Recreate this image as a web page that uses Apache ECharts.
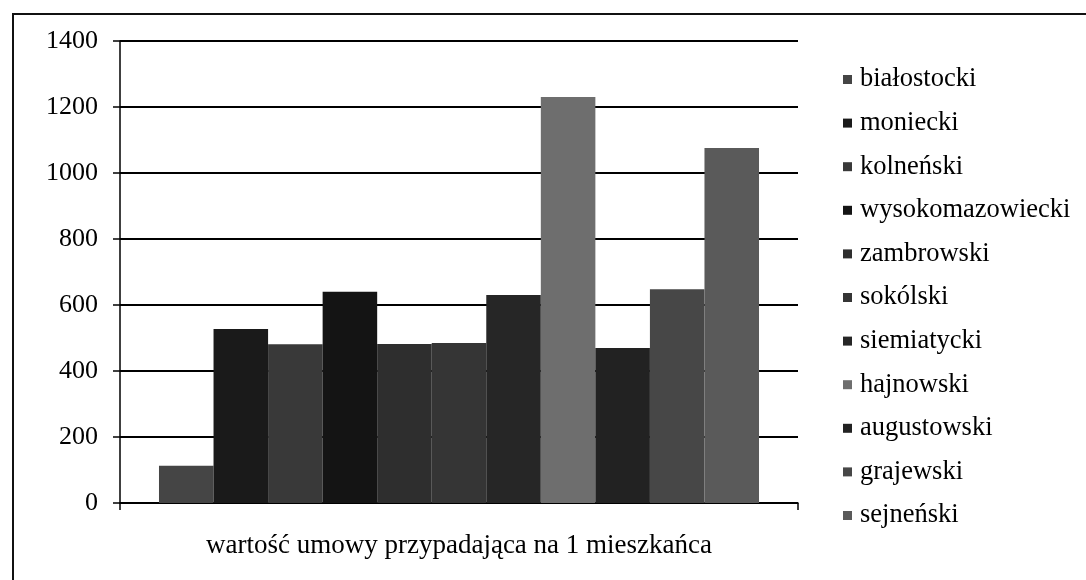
<!DOCTYPE html>
<html>
<head>
<meta charset="utf-8">
<script src="https://cdn.jsdelivr.net/npm/echarts@6/dist/echarts.min.js"></script>
<style>
  html, body { margin: 0; padding: 0; background: #fff; }
  #chart { width: 1086px; height: 580px; }
  #frame { position: absolute; left: 12px; top: 13px; width: 1100px; height: 600px;
           border-left: 2px solid #111; border-top: 2px solid #111; pointer-events: none; }
</style>
</head>
<body>
<div id="frame"></div>
<div id="chart"></div>
<script>
// values per inhabitant
const category = ['wartość umowy przypadająca na 1 mieszkańca']
const counties = ['białostocki', 'moniecki', 'kolneński', 'wysokomazowiecki', 'zambrowski',
  'sokólski', 'siemiatycki', 'hajnowski', 'augustowski', 'grajewski', 'sejneński']
const values = [113, 527, 481, 640, 482, 485, 630, 1230, 470, 648, 1076]
const greys = ['#454545', '#1a1a1a', '#393939', '#141414', '#2e2e2e', '#353535',
  '#262626', '#6e6e6e', '#222222', '#474747', '#5a5a5a']
const yTicks = { min: 0, max: 1400, interval: 200 }

const serif = '"Liberation Serif", "Times New Roman", serif'

const chart = echarts.init(document.getElementById('chart'))
chart.setOption({
  animation: false,
  textStyle: { fontFamily: serif, color: '#000' },
  grid: { left: 120, right: 288, top: 41, bottom: 77 },
  legend: {
    orient: 'vertical',
    left: 838,
    top: 61,
    icon: 'rect',
    itemWidth: 9,
    itemHeight: 9,
    itemGap: 16.6,
    textStyle: { fontFamily: serif, fontSize: 26.5, lineHeight: 26, color: '#000', padding: [0, 0, 0, 3] },
    data: counties
  },
  xAxis: {
    type: 'category',
    data: category,
    axisLine: { lineStyle: { color: '#000', width: 1.5 } },
    axisTick: { show: true, length: 7, lineStyle: { color: '#000', width: 1.5 } },
    axisLabel: { fontFamily: serif, fontSize: 27, color: '#000', margin: 29 }
  },
  yAxis: {
    type: 'value',
    min: yTicks.min,
    max: yTicks.max,
    interval: yTicks.interval,
    axisLine: { show: true, lineStyle: { color: '#000', width: 1.5 } },
    axisTick: { show: true, length: 7, lineStyle: { color: '#000', width: 1.5 } },
    splitLine: { lineStyle: { color: '#000', width: 1.8 } },
    axisLabel: { fontFamily: serif, fontSize: 26, color: '#000', margin: 22, formatter: v => String(v) }
  },
  series: counties.map((name, i) => ({
    name,
    type: 'bar',
    barGap: '0%',
    barCategoryGap: '11.5%',
    itemStyle: { color: greys[i] },
    data: [values[i]]
  }))
})
</script>
</body>
</html>
